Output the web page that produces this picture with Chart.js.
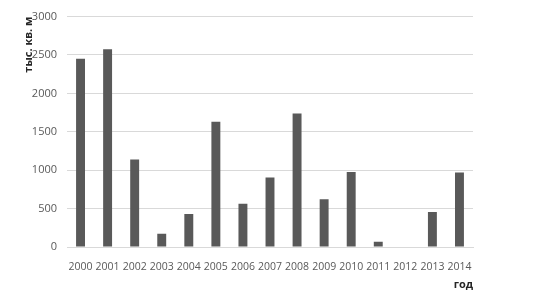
<!DOCTYPE html>
<html>
<head>
<meta charset="utf-8">
<script src="https://cdn.jsdelivr.net/npm/chart.js@4"></script>
<style>
  html, body { margin: 0; padding: 0; background: #fff; }
  #wrap { width: 537px; height: 291px; }
</style>
</head>
<body>
<div id="wrap"><canvas id="graphique"></canvas></div>
<script>
// annees et surfaces (tys. kv. m)
var years = ['2000', '2001', '2002', '2003', '2004', '2005', '2006', '2007', '2008', '2009', '2010', '2011', '2012', '2013', '2014'];
var surface = [2450, 2575, 1140, 172, 430, 1630, 563, 905, 1737, 621, 977, 68, 0, 457, 970];
var yTicks = [0, 500, 1000, 1500, 2000, 2500, 3000];

var gris = '#595959';
var ctx = document.getElementById('graphique').getContext('2d');

var graph = new Chart(ctx, {
  type: 'bar',
  data: {
    labels: years,
    datasets: [{
      label: 'тыс. кв. м',
      data: surface,
      backgroundColor: '#595959',
      barPercentage: 0.33,
      categoryPercentage: 1
    }]
  },
  options: {
    responsive: true,
    maintainAspectRatio: false,
    animation: false,
    layout: { padding: { left: 22, right: 64, top: 15, bottom: 0 } },
    plugins: { legend: { display: false }, tooltip: { enabled: false } },
    scales: {
      x: {
        afterFit: function(s) { s.height = 44; },
        grid: { display: false },
        border: { color: '#d9d9d9' },
        ticks: { color: gris, font: { family: 'Open Sans', size: 10.5 }, padding: 6, maxRotation: 0, autoSkip: false },
        title: { display: true, text: 'год', align: 'end', color: '#262626', font: { family: 'Open Sans', size: 11, weight: 'bold' }, padding: 0 }
      },
      y: {
        min: 0,
        max: 3000,
        afterBuildTicks: function(s) { s.ticks = yTicks.map(function(v) { return { value: v }; }); },
        afterFit: function(s) { s.width = 45; },
        grid: { color: '#d9d9d9', drawTicks: false },
        border: { display: false },
        ticks: { color: gris, font: { family: 'Open Sans', size: 11 }, padding: 10, callback: function(v) { return String(v); } },
        title: { display: true, text: 'тыс. кв. м', align: 'end', color: '#262626', font: { family: 'Open Sans', size: 11, weight: 'bold' }, padding: 0 }
      }
    }
  }
});
</script>
</body>
</html>
